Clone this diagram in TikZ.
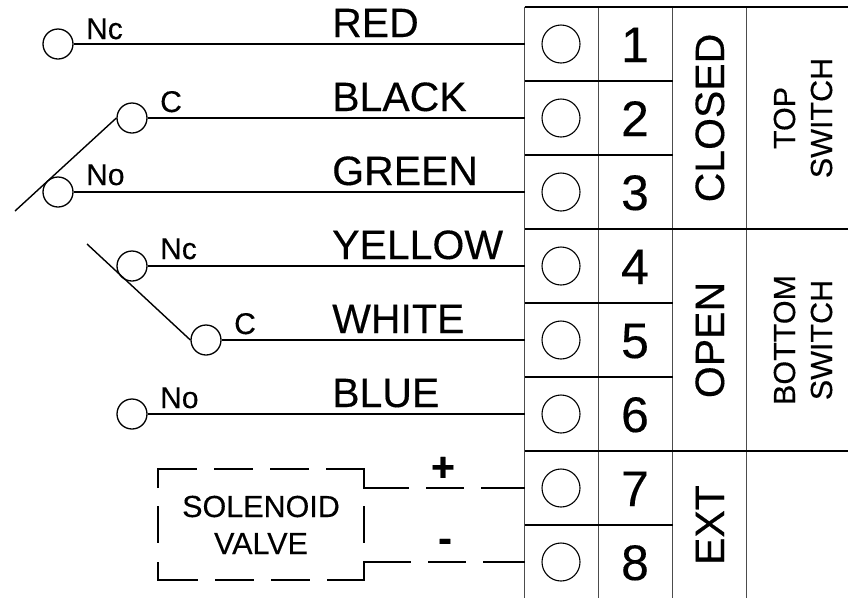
\documentclass[tikz,border=0pt]{standalone}
\usepackage{fontspec}
\setmainfont[FakeBold=0.3]{Liberation Sans}
\newcommand{\fsize}[1]{\fontsize{#1}{#1}\selectfont}
\tikzset{
	wire/.style={line width=1.8pt},
	rule/.style={line width=1.8pt},
	colrule/.style={line width=1.5pt,black!70},
	arm/.style={line width=1.4pt},
	port/.style={circle,draw,line width=1.3pt,minimum size=30pt,inner sep=0pt},
	term/.style={circle,draw,line width=1.1pt,minimum size=38pt,inner sep=0pt},
	big/.style={font=\fsize{41},anchor=base,inner sep=0pt},
	small/.style={font=\fsize{30.5},anchor=base,inner sep=0pt},
	tag/.style={font=\fsize{30},anchor=base west,inner sep=0pt}
}
\begin{document}
\begin{tikzpicture}[x=1pt,y=-1pt,line join=miter,line cap=butt]
	\useasboundingbox (0,0) rectangle (848,598);
	% terminal block
	\draw[colrule] (524.5,7)--(524.5,598) (598.5,7)--(598.5,598) (672.5,7)--(672.5,598) (746.5,7)--(746.5,598);
	\draw[rule] (524.5,7)--(848,7) (524.5,229)--(848,229) (524.5,451)--(848,451);
	\foreach \y in {81,155,303,377,525}
	\draw[rule] (524.5,\y)--(672.5,\y);
	\foreach \n/\y in {1/44,2/118,3/192,4/266,5/340,6/414,7/488,8/562} {
		\node[term] (term\n) at (561,\y) {};
		\coordinate (edge\n) at (524.5,\y);
		\node[font=\fsize{50},anchor=base,inner sep=0pt] (num\n) at (635,\y+18) {\n};
	}
	\node[big,rotate=90] (closed) at (724,118) {CLOSED};
	\node[big,rotate=90] (open) at (724,340) {OPEN};
	\node[big,rotate=90] (ext) at (724,525) {EXT};
	\node[small,rotate=90] (top) at (795,118) {TOP};
	\node[small,rotate=90] (sw1) at (832,118) {SWITCH};
	\node[small,rotate=90] (bottom) at (795,340) {BOTTOM};
	\node[small,rotate=90] (sw2) at (832,340) {SWITCH};
	% switch contacts and wires
	\foreach \n/\x/\y/\t/\d in {1/58/44/Nc/5,2/132/118/C/6,3/58/192/No/7,4/132/266/Nc/7,5/206/340/C/6,6/132/414/No/6} {
		\node[port] (port\n) at (\x,\y) {};
		\draw[wire] (port\n)--(edge\n);
		\node[tag] (tag\n) at (\x+28,\y-\d) {\t};
	}
	\foreach \n/\c/\y in {1/RED/37,2/BLACK/111,3/GREEN/185,4/YELLOW/259,5/WHITE/333,6/BLUE/407}
	\node[big,anchor=base west] (col\n) at (332,\y) {\c};
	\coordinate (armA) at (15,211);
	\coordinate (armB) at (87,244);
	\draw[arm] (armA)--(port2.west);
	\draw[arm] (armB)--(port5.west);
	% solenoid valve
	\coordinate (boxTL) at (158,469);
	\coordinate (boxTR) at (364,469);
	\coordinate (boxBL) at (158,580);
	\coordinate (boxBR) at (364,580);
	\draw[wire,dash pattern=on 58pt off 17pt on 39pt off 17pt on 39pt off 17pt on 102pt off 17pt on 38pt off 17pt on 44pt]
	(158,488)--(boxTL)--(boxTR)--(364,488)--(edge7);
	\draw[wire,dash pattern=on 58pt off 17pt on 39pt off 17pt on 39pt off 17pt on 102pt off 17pt on 38pt off 17pt on 44pt]
	(158,562)--(boxBL)--(boxBR)--(364,562)--(edge8);
	\draw[wire] (158,506)--(158,543) (364,506)--(364,543);
	\node[small] (sol) at (261,517) {SOLENOID};
	\node[small] (valve) at (261,554) {VALVE};
	\node[big] (plus) at (443,481) {\bfseries +};
	\node[big] (minus) at (445,552) {\bfseries -};
\end{tikzpicture}
\end{document}
